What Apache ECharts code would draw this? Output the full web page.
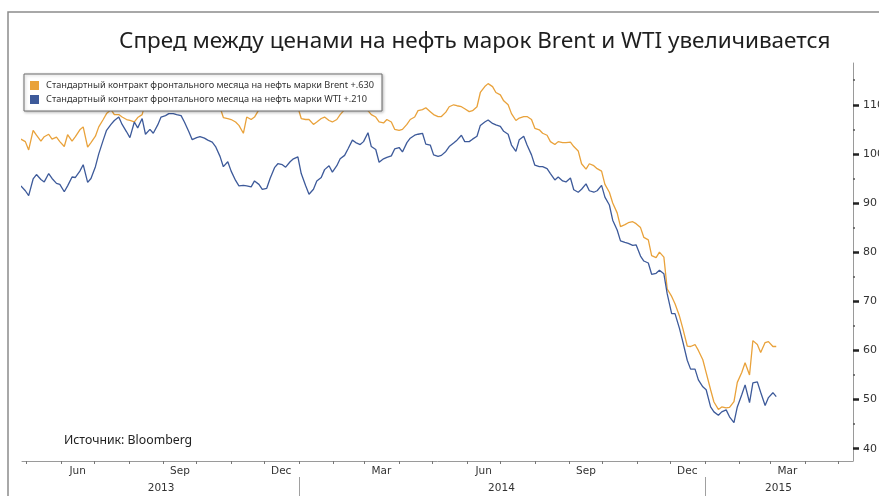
<!DOCTYPE html>
<html>
<head>
<meta charset="utf-8">
<script src="https://cdn.jsdelivr.net/npm/echarts@6/dist/echarts.min.js"></script>
<style>
  html, body { margin: 0; padding: 0; background: #fff; }
  #chart { width: 879px; height: 496px; }
</style>
</head>
<body>
<div id="chart"></div>
<script>
// Front-month futures, USD per barrel, sampled twice a week (Tue / Fri)
const dates = [
  // 2013
  '2013-04-26','2013-04-30','2013-05-03','2013-05-07','2013-05-10','2013-05-14','2013-05-17','2013-05-21','2013-05-24','2013-05-28',
  '2013-05-31','2013-06-04','2013-06-07','2013-06-11','2013-06-14','2013-06-18','2013-06-21','2013-06-25','2013-06-28','2013-07-02',
  '2013-07-05','2013-07-09','2013-07-12','2013-07-16','2013-07-19','2013-07-23','2013-07-26','2013-07-30','2013-08-02','2013-08-06',
  '2013-08-09','2013-08-13','2013-08-16','2013-08-20','2013-08-23','2013-08-27','2013-08-30','2013-09-03','2013-09-06','2013-09-10',
  '2013-09-13','2013-09-17','2013-09-20','2013-09-24','2013-09-27','2013-10-01','2013-10-04','2013-10-08','2013-10-11','2013-10-15',
  '2013-10-18','2013-10-22','2013-10-25','2013-10-29','2013-11-01','2013-11-05','2013-11-08','2013-11-12','2013-11-15','2013-11-19',
  '2013-11-22','2013-11-26','2013-11-29','2013-12-03','2013-12-06','2013-12-10','2013-12-13','2013-12-17','2013-12-20','2013-12-24',
  '2013-12-27','2013-12-31',
  // 2014
  '2014-01-03','2014-01-07','2014-01-10','2014-01-14','2014-01-17','2014-01-21','2014-01-24','2014-01-28','2014-01-31','2014-02-04',
  '2014-02-07','2014-02-11','2014-02-14','2014-02-18','2014-02-21','2014-02-25','2014-02-28','2014-03-04','2014-03-07','2014-03-11',
  '2014-03-14','2014-03-18','2014-03-21','2014-03-25','2014-03-28','2014-04-01','2014-04-04','2014-04-08','2014-04-11','2014-04-15',
  '2014-04-18','2014-04-22','2014-04-25','2014-04-29','2014-05-02','2014-05-06','2014-05-09','2014-05-13','2014-05-16','2014-05-20',
  '2014-05-23','2014-05-27','2014-05-30','2014-06-03','2014-06-06','2014-06-10','2014-06-13','2014-06-17','2014-06-20','2014-06-24',
  '2014-06-27','2014-07-01','2014-07-04','2014-07-08','2014-07-11','2014-07-15','2014-07-18','2014-07-22','2014-07-25','2014-07-29',
  '2014-08-01','2014-08-05','2014-08-08','2014-08-12','2014-08-15','2014-08-19','2014-08-22','2014-08-26','2014-08-29','2014-09-02',
  '2014-09-05','2014-09-09','2014-09-12','2014-09-16','2014-09-19','2014-09-23','2014-09-26','2014-09-30','2014-10-03','2014-10-07',
  '2014-10-10','2014-10-14','2014-10-17','2014-10-21','2014-10-24','2014-10-28','2014-10-31','2014-11-04','2014-11-07','2014-11-11',
  '2014-11-14','2014-11-18','2014-11-21','2014-11-25','2014-11-28','2014-12-02','2014-12-05','2014-12-09','2014-12-12','2014-12-16',
  '2014-12-19','2014-12-23','2014-12-26','2014-12-30',
  // 2015
  '2015-01-02','2015-01-06','2015-01-09','2015-01-13','2015-01-16','2015-01-20','2015-01-23','2015-01-27','2015-01-30','2015-02-03',
  '2015-02-06','2015-02-10','2015-02-13','2015-02-17','2015-02-20','2015-02-24','2015-02-27','2015-03-03','2015-03-06'
];

const brent = [
  // 2013
  103.0,102.5,100.8,104.8,103.8,102.6,103.5,104.0,103.0,103.4,
  102.5,101.5,103.9,102.6,103.5,104.9,105.5,101.4,102.3,103.6,
  105.5,107.0,108.2,109.0,108.0,108.0,107.5,107.0,106.8,106.5,
  107.4,108.0,110.5,111.5,112.0,113.5,114.5,115.0,115.5,113.0,
  111.5,110.0,110.5,111.0,109.5,109.8,110.0,110.5,111.0,111.5,
  110.5,109.5,107.4,107.2,107.0,106.5,105.8,104.2,107.5,107.0,
  107.5,109.0,110.5,111.0,111.5,110.5,109.5,110.0,111.5,111.0,
  110.8,109.5,
  // 2014
  107.2,107.0,107.0,106.0,106.5,107.2,107.5,106.8,106.5,107.0,
  108.0,109.0,109.5,110.0,110.5,110.8,109.5,108.8,108.0,107.5,
  106.5,106.3,107.0,106.5,105.0,104.8,105.0,106.0,107.0,107.5,
  108.8,109.0,109.4,108.6,108.0,107.6,107.6,108.5,109.6,110.0,
  109.8,109.6,109.2,108.6,108.8,109.6,112.5,113.7,114.3,113.7,
  112.5,112.0,110.8,110.0,108.2,106.8,107.3,107.6,107.6,107.0,
  105.2,104.9,104.2,103.8,102.5,101.9,102.5,102.3,102.3,102.4,
  101.5,100.6,98.0,96.9,98.0,97.6,97.0,96.5,93.8,92.2,
  90.0,88.0,85.2,85.6,86.0,86.2,85.8,85.0,83.0,82.5,
  79.3,78.9,80.0,79.0,72.5,71.0,69.5,67.0,64.5,60.9,
  60.8,61.2,60.0,58.1,
  // 2015
  55.5,52.0,49.5,48.0,48.5,48.3,48.4,49.6,53.5,55.5,
  57.5,55.0,62.0,61.2,59.6,61.6,61.8,60.8,60.8
];

const wti = [
  // 2013
  93.5,92.5,91.5,94.9,95.8,94.8,94.3,96.0,95.0,94.0,
  93.8,92.3,93.5,95.3,95.2,96.5,97.8,94.2,95.0,97.4,
  100.0,102.8,104.8,106.0,106.8,107.5,106.0,104.5,103.3,106.5,
  105.3,107.2,104.0,105.0,104.2,105.9,107.5,107.8,108.2,108.2,
  108.0,107.8,106.5,104.5,102.9,103.3,103.5,103.2,102.8,102.4,
  101.5,99.5,97.4,98.4,96.5,94.6,93.5,93.6,93.5,93.3,
  94.5,93.8,92.8,93.0,95.0,97.2,98.0,97.8,97.3,98.4,
  99.0,99.4,
  // 2014
  96.0,93.5,91.8,92.8,94.5,95.2,96.8,97.6,96.3,97.6,
  99.0,99.7,101.0,102.8,102.3,101.9,102.5,104.3,101.5,100.9,
  98.3,99.0,99.3,99.6,101.0,101.3,100.4,102.3,103.2,103.8,
  104.0,104.2,102.0,101.8,99.8,99.5,99.7,100.5,101.5,102.2,
  102.8,103.8,102.5,102.5,103.0,103.6,105.8,106.5,106.9,106.2,
  105.9,105.6,104.6,104.0,101.8,100.5,102.9,103.6,101.8,99.8,
  97.7,97.4,97.4,97.0,96.0,94.7,95.3,94.5,94.3,95.1,
  92.7,92.2,92.8,93.9,92.5,92.2,92.5,93.6,91.2,89.6,
  86.5,84.5,82.3,82.0,81.8,81.4,81.5,79.2,78.2,77.8,
  75.5,75.7,76.3,75.6,71.5,67.5,67.5,64.5,61.8,58.0,
  56.2,56.2,54.0,52.6,
  // 2015
  52.0,48.5,47.5,46.8,47.5,47.9,46.5,45.3,48.5,51.0,
  53.0,49.4,53.4,53.6,51.5,48.8,50.4,51.4,50.6
];

const seriesNames = [
  'Стандартный контракт фронтального месяца на нефть марки Brent +.630',
  'Стандартный контракт фронтального месяца на нефть марки WTI +.210'
];
const titleText = 'Спред между ценами на нефть марок Brent и WTI увеличивается';
const sourceText = 'Источник: Bloomberg';

// Axis ticks and labels
const yMajor = [40, 50, 60, 70, 80, 90, 100, 110];
const yMinor = [45, 55, 65, 75, 85, 95, 105, 115];
const monthStarts = [
  '2013-05-01','2013-06-01','2013-07-01','2013-08-01','2013-09-01','2013-10-01','2013-11-01','2013-12-01',
  '2014-01-01','2014-02-01','2014-03-01','2014-04-01','2014-05-01','2014-06-01','2014-07-01','2014-08-01',
  '2014-09-01','2014-10-01','2014-11-01','2014-12-01','2015-01-01','2015-02-01','2015-03-01','2015-04-01','2015-05-01'
];
const monthLabelDates = ['2013-06-16','2013-09-16','2013-12-16','2014-03-16','2014-06-16','2014-09-16','2014-12-16','2015-03-16'];
const monthLabels = ['Jun', 'Sep', 'Dec', 'Mar', 'Jun', 'Sep', 'Dec', 'Mar'];
const yearBreaks = ['2014-01-01', '2015-01-01'];
const yearLabelDates = ['2013-08-30', '2014-07-02', '2015-03-08'];
const yearLabels = ['2013', '2014', '2015'];

// dates are placed on a linear (value) axis as UTC timestamps
const ts = s => Date.parse(s + 'T00:00:00Z');
const xMin = ts('2013-04-27');
const xMax = ts('2015-05-14');

const monthLabelMap = {};
monthLabelDates.forEach((d, i) => { monthLabelMap[ts(d)] = monthLabels[i]; });
const yearLabelMap = {};
yearLabelDates.forEach((d, i) => { yearLabelMap[ts(d)] = yearLabels[i]; });

const brentColor = '#e9a23b';
const wtiColor = '#3d5a9a';
const axisFont = 'DejaVu Sans';

const chart = echarts.init(document.getElementById('chart'), null, { renderer: 'canvas' });

chart.setOption({
  animation: false,
  backgroundColor: '#ffffff',
  title: [
    {
      text: titleText,
      left: 114,
      top: 25,
      textStyle: { fontFamily: 'Noto Sans', fontSize: 22.5, fontWeight: 'normal', color: '#1e1e1e' }
    },
    {
      text: sourceText,
      left: 59,
      top: 429,
      textStyle: { fontFamily: 'Noto Sans', fontSize: 12.3, fontWeight: 'normal', color: '#222' }
    }
  ],
  legend: {
    orient: 'vertical',
    left: 24,
    top: 74,
    padding: [7, 8, 7, 6],
    itemGap: 5,
    itemWidth: 9,
    itemHeight: 9,
    icon: 'rect',
    backgroundColor: '#ffffff',
    borderColor: '#6e6e6e',
    borderWidth: 1,
    shadowBlur: 3,
    shadowColor: 'rgba(0,0,0,0.25)',
    shadowOffsetX: 1,
    shadowOffsetY: 1,
    textStyle: { fontFamily: 'Noto Sans', fontSize: 9.2, color: '#333', padding: [0, 0, 0, 2] },
    data: seriesNames
  },
  grid: {
    left: 22,
    right: 26,
    top: 63,
    bottom: 35,
    containLabel: false,
    outerBoundsMode: 'none'
  },
  xAxis: [
    {
      type: 'value',
      min: xMin,
      max: xMax,
      position: 'bottom',
      axisLine: { show: true, onZero: false, lineStyle: { color: '#9a9a9a', width: 1 } },
      axisTick: {
        show: true, length: 3, inside: false,
        customValues: monthStarts.map(ts),
        lineStyle: { color: '#777', width: 1 }
      },
      axisLabel: {
        show: true, margin: 5,
        customValues: monthLabelDates.map(ts),
        formatter: v => monthLabelMap[v] || '',
        fontFamily: axisFont, fontSize: 10.5, color: '#333'
      },
      splitLine: { show: false }
    },
    {
      type: 'value',
      min: xMin,
      max: xMax,
      position: 'bottom',
      offset: 16,
      axisLine: { show: false, onZero: false },
      axisTick: {
        show: true, length: 19, inside: false,
        customValues: yearBreaks.map(ts),
        lineStyle: { color: '#a0a0a0', width: 1 }
      },
      axisLabel: {
        show: true, margin: 6,
        customValues: yearLabelDates.map(ts),
        formatter: v => yearLabelMap[v] || '',
        fontFamily: axisFont, fontSize: 10.5, color: '#333'
      },
      splitLine: { show: false }
    }
  ],
  yAxis: [
    {
      type: 'value',
      position: 'right',
      min: 37.5,
      max: 118.5,
      axisLine: { show: true, lineStyle: { color: '#9a9a9a', width: 1 } },
      axisTick: {
        show: true, length: 6, inside: false,
        customValues: yMajor,
        lineStyle: { color: '#222', width: 2.5 }
      },
      axisLabel: {
        show: true, margin: 10,
        customValues: yMajor,
        fontFamily: axisFont, fontSize: 11, color: '#333'
      },
      splitLine: { show: false }
    },
    {
      type: 'value',
      position: 'right',
      min: 37.5,
      max: 118.5,
      axisLine: { show: false },
      axisTick: {
        show: true, length: 2, inside: false,
        customValues: yMinor,
        lineStyle: { color: '#555', width: 1.5 }
      },
      axisLabel: { show: false },
      splitLine: { show: false }
    }
  ],
  series: [
    {
      name: seriesNames[0],
      type: 'line',
      xAxisIndex: 0,
      yAxisIndex: 0,
      showSymbol: false,
      symbol: 'none',
      color: brentColor,
      lineStyle: { color: brentColor, width: 1.3 },
      data: dates.map((d, i) => [ts(d), brent[i]])
    },
    {
      name: seriesNames[1],
      type: 'line',
      xAxisIndex: 0,
      yAxisIndex: 0,
      showSymbol: false,
      symbol: 'none',
      color: wtiColor,
      lineStyle: { color: wtiColor, width: 1.3 },
      data: dates.map((d, i) => [ts(d), wti[i]])
    }
  ],
  graphic: [
    {
      type: 'rect',
      z: 0,
      silent: true,
      shape: { x: 8, y: 12, width: 900, height: 520 },
      style: { fill: 'none', stroke: '#8c8c8c', lineWidth: 1.5 }
    }
  ]
});
</script>
</body>
</html>
